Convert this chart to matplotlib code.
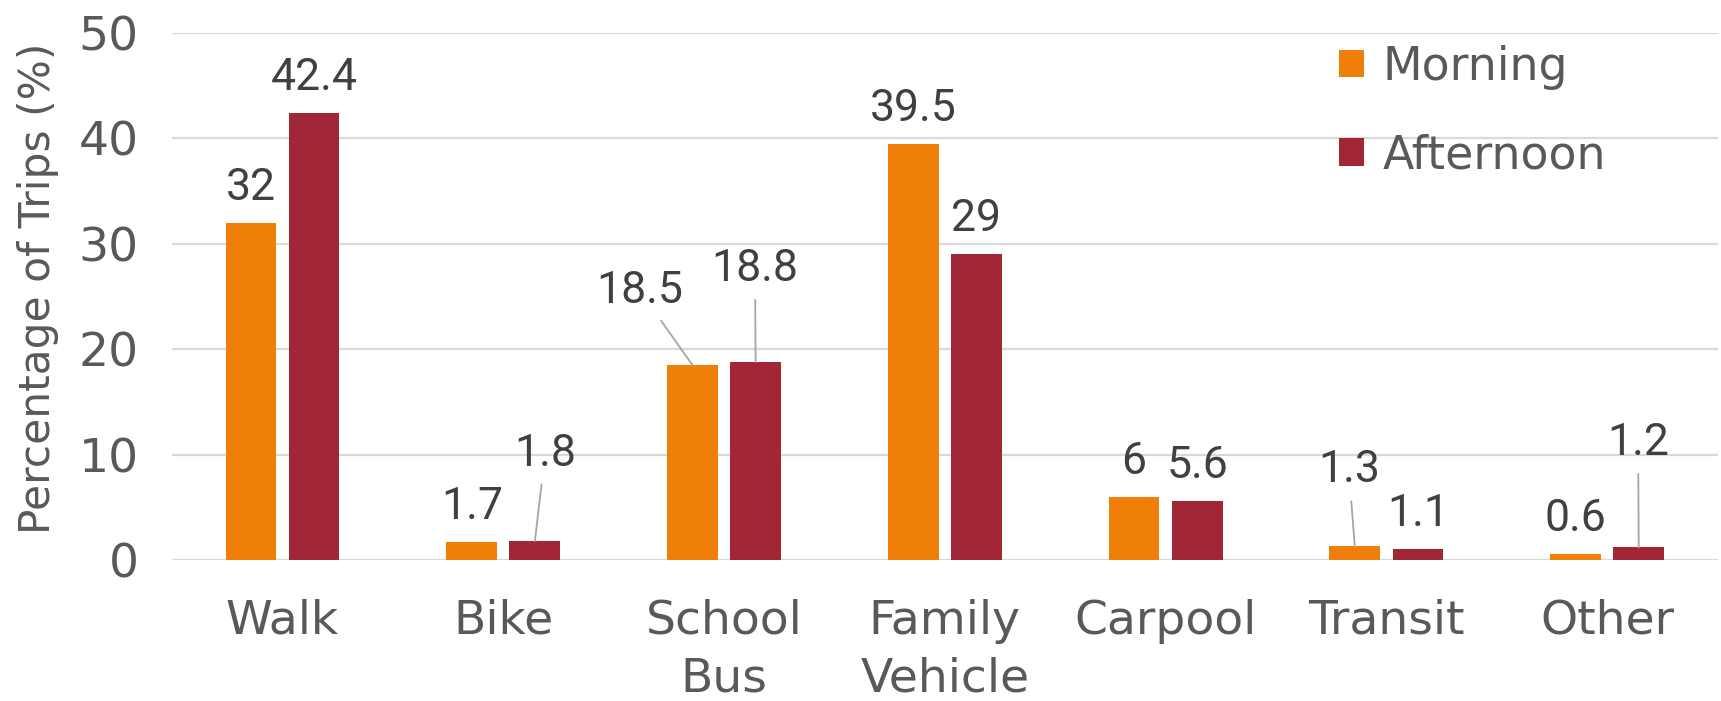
import numpy as np
import matplotlib.pyplot as plt

categories = ['Walk', 'Bike', 'School\nBus', 'Family\nVehicle', 'Carpool', 'Transit', 'Other']
morning = [32, 1.7, 18.5, 39.5, 6, 1.3, 0.6]
afternoon = [42.4, 1.8, 18.8, 29, 5.6, 1.1, 1.2]
series_names = ['Morning', 'Afternoon']

# labels that Excel moved off the bar, with a leader line: (series, index) -> (x, y) in data units
moved_labels = {
    (0, 2): (1.62, 25.5),
    (1, 2): (2.14, 27.6),
    (1, 1): (1.19, 10.1),
    (0, 5): (4.83, 8.5),
    (1, 6): (6.14, 11.1),
}

orange = '#F07F09'
red = '#A12737'
grey_text = '#595959'
label_text = '#404040'

fig = plt.figure(figsize=(17.21, 7.01), dpi=100)
ax = fig.add_axes([0.100, 0.201, 0.898, 0.752])

x = np.arange(len(categories))
width = 0.23
offset = 0.143

bars_m = ax.bar(x - offset, morning, width, color=orange, label=series_names[0], zorder=3)
bars_a = ax.bar(x + offset, afternoon, width, color=red, label=series_names[1], zorder=3)

for s, (bars, vals) in enumerate([(bars_m, morning), (bars_a, afternoon)]):
    for i, (b, v) in enumerate(zip(bars, vals)):
        txt = f'{v:g}'
        bx = b.get_x() + b.get_width() / 2
        if (s, i) in moved_labels:
            tx, ty = moved_labels[(s, i)]
            ax.annotate(txt, xy=(bx, v), xytext=(tx, ty), textcoords='data',
                        ha='center', va='center', fontsize=32, color=label_text,
                        family='Roboto',
                        arrowprops=dict(arrowstyle='-', color='#A6A6A6', lw=1.3,
                                        shrinkA=5, shrinkB=0))
        else:
            ax.annotate(txt, xy=(bx, v), xytext=(0, 10), textcoords='offset points',
                        ha='center', va='bottom', fontsize=32, color=label_text,
                        family='Roboto')

ax.set_ylim(0, 50)
ax.set_xlim(-0.5, len(categories) - 0.5)
ax.set_yticks(np.arange(0, 51, 10))
ax.yaxis.grid(True, color='#D9D9D9', lw=1.6, zorder=0)
ax.set_axisbelow(True)
for sp in ax.spines.values():
    sp.set_visible(False)
ax.tick_params(axis='both', length=0, labelsize=34, colors=grey_text)
ax.tick_params(axis='y', pad=24)
ax.tick_params(axis='x', pad=28)
ax.set_xticks(x)
ax.set_xticklabels(categories, linespacing=1.35, va='top')
ax.set_ylabel('Percentage of Trips (%)', fontsize=30.5, color=grey_text)
ax.yaxis.set_label_coords(-0.073, 0.515)

leg = ax.legend(loc='upper left', bbox_to_anchor=(0.737, 1.03), frameon=False,
                fontsize=33, handlelength=0.55, handleheight=0.55, handletextpad=0.4,
                labelspacing=0.95, borderaxespad=0.2)
for t in leg.get_texts():
    t.set_color(grey_text)

fig.savefig('out.png', dpi=100)
